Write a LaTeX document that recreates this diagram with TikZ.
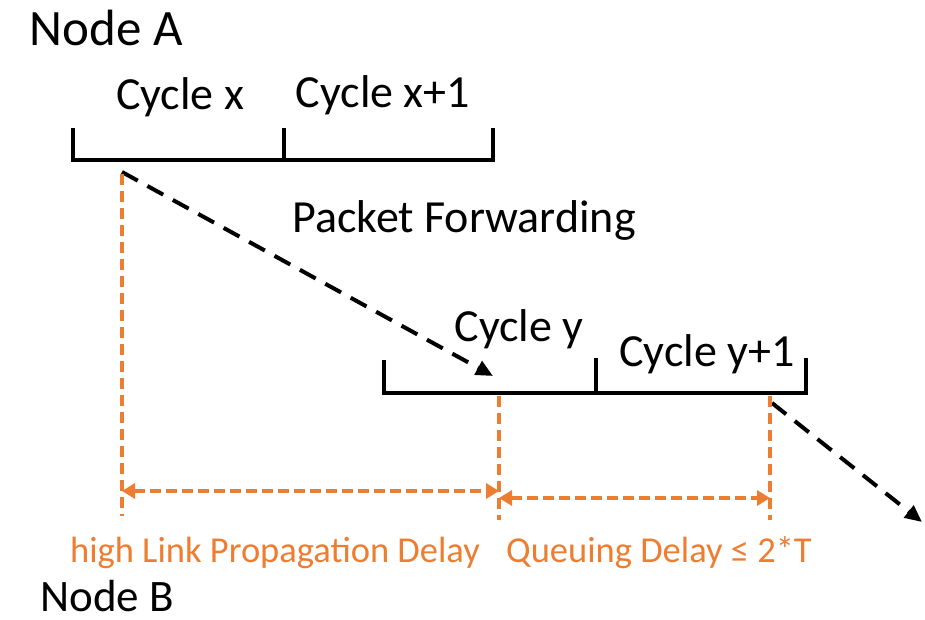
\documentclass[tikz,border=0pt]{standalone}
\usepackage{fontspec}
\setmainfont{Carlito}
\usetikzlibrary{arrows.meta}
\definecolor{delayorange}{HTML}{ED7D31}
\tikzset{
  x=1pt, y=-1pt,
  lbl/.style={inner sep=0pt, font=\fontsize{46}{50}\selectfont},
  nodelbl/.style={inner sep=0pt, font=\fontsize{51}{55}\selectfont},
  delaylbl/.style={inner sep=0pt, text=delayorange, font=\fontsize{36.5}{40}\selectfont},
  timeline/.style={line width=4pt, line cap=butt, line join=miter},
  packet/.style={line width=4pt, dash pattern=on 18pt off 11pt, -{Triangle[length=17pt,width=15pt]}},
  marker/.style={delayorange, line width=4pt, dash pattern=on 11pt off 6pt},
  span/.style={delayorange, line width=4pt, dash pattern=on 11pt off 5pt,
    {Triangle[length=13pt,width=15pt]}-{Triangle[length=13pt,width=15pt]}},
}
\begin{document}
\begin{tikzpicture}
\useasboundingbox (0,0) rectangle (925,620);

% node names
\node[nodelbl] (nA) at (106,28) {Node A};
\node[lbl, font=\fontsize{45}{50}\selectfont] (nB) at (107,596) {Node B};

% cycle timeline of node A
\coordinate (a0t) at (73,128);  \coordinate (a0) at (73,160);
\coordinate (a1t) at (284,128); \coordinate (a1) at (284,160);
\coordinate (a2t) at (493,128); \coordinate (a2) at (493,160);
\draw[timeline] (a0t) -- (a0) -- (a2) -- (a2t);
\draw[timeline] (a1t) -- (a1);
\node[lbl] (cx) at (180,97) {Cycle x};
\node[lbl] (cx1) at (383,95) {Cycle x+1};

% cycle timeline of node B
\coordinate (b0t) at (384,360); \coordinate (b0) at (384,393);
\coordinate (b1t) at (596,358); \coordinate (b1) at (596,393);
\coordinate (b2t) at (806,358); \coordinate (b2) at (806,393);
\draw[timeline] (b0t) -- (b0) -- (b2) -- (b2t);
\draw[timeline] (b1t) -- (b1);
\node[lbl] (cy) at (519,329) {Cycle y};
\node[lbl] (cy1) at (707,354) {Cycle y+1};

\node[lbl] (pf) at (464,220) {Packet Forwarding};

% packet paths
\coordinate (sendA) at (122,172);
\coordinate (arrB) at (493,376);
\coordinate (sendB) at (772,403);
\coordinate (exitB) at (922,522);
\draw[packet] (sendA) -- (arrB);
\draw[packet] (sendB) -- (exitB);

% delay markers
\coordinate (m1t) at (122,174); \coordinate (m1b) at (122,516);
\coordinate (m2t) at (499,396); \coordinate (m2b) at (499,520);
\coordinate (m3t) at (770,396); \coordinate (m3b) at (770,520);
\draw[marker] (m1t) -- (m1b);
\draw[marker] (m2t) -- (m2b);
\draw[marker] (m3t) -- (m3b);

\coordinate (p1l) at (122,491); \coordinate (p1r) at (499,491);
\coordinate (p2l) at (499,498); \coordinate (p2r) at (770,498);
\draw[span] (p1l) -- (p1r);
\draw[span] (p2l) -- (p2r);

\node[delaylbl] (prop) at (275,553) {high Link Propagation Delay};
\node[delaylbl] (queue) at (659,553) {Queuing Delay ≤ 2*T};
\end{tikzpicture}
\end{document}
